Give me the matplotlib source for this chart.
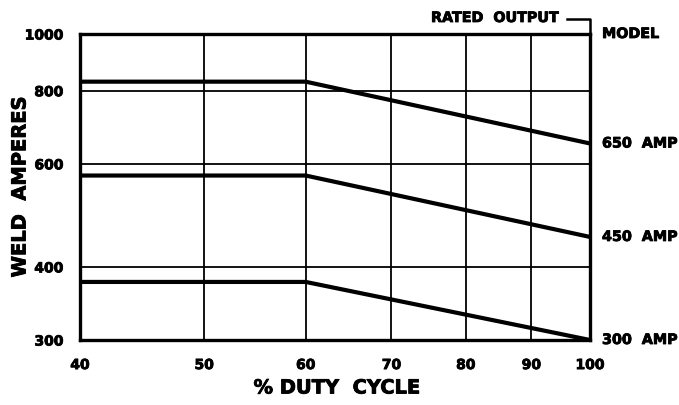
import matplotlib
matplotlib.use("Agg")
import matplotlib.pyplot as plt
import matplotlib.patheffects as pe
from matplotlib.ticker import FixedLocator, FixedFormatter, NullLocator
from matplotlib.lines import Line2D

# Duty-cycle curves for three welder models (log-log scales)
duty_cycle = [40, 60, 100]
amps_650 = [829, 829, 650]
amps_450 = [573, 573, 450]
amps_300 = [377, 377, 300]
rated_outputs = [650, 450, 300]
model_labels = ["650  AMP", "450  AMP", "300  AMP"]

x_ticks = [40, 50, 60, 70, 80, 90, 100]
y_ticks = [300, 400, 600, 800, 1000]

plt.rcParams["font.family"] = ["DejaVu Sans"]
plt.rcParams["font.weight"] = "bold"

# slightly heavier lettering
heavy = [pe.withStroke(linewidth=0.6, foreground="black")]

fig = plt.figure(figsize=(6.79, 4.05), dpi=100)
ax = fig.add_axes([80 / 679, 1 - 340 / 405, 510 / 679, 306 / 405])

ax.set_xscale("log")
ax.set_yscale("log")
ax.set_xlim(40, 100)
ax.set_ylim(300, 1000)

ax.xaxis.set_major_locator(FixedLocator(x_ticks))
ax.xaxis.set_major_formatter(FixedFormatter([str(v) for v in x_ticks]))
ax.xaxis.set_minor_locator(NullLocator())
ax.yaxis.set_major_locator(FixedLocator(y_ticks))
ax.yaxis.set_major_formatter(FixedFormatter([str(v) for v in y_ticks]))
ax.yaxis.set_minor_locator(NullLocator())

ax.tick_params(axis="both", length=0, labelsize=10, pad=12)
ax.tick_params(axis="x", pad=13)
for lbl in ax.get_xticklabels() + ax.get_yticklabels():
    lbl.set_fontweight("bold")
    lbl.set_path_effects(heavy)

ax.grid(True, color="black", linewidth=1.3)
ax.set_axisbelow(True)
for side in ax.spines.values():
    side.set_linewidth(2.4)
    side.set_zorder(5)

for series in (amps_650, amps_450, amps_300):
    ax.plot(duty_cycle, series, color="black", linewidth=3.0,
            solid_capstyle="butt", clip_on=False, zorder=4)

# Model labels on the right side, at each rated output
ax.annotate("MODEL", xy=(100, 1000), xytext=(12, 0), textcoords="offset pixels",
            ha="left", va="center", fontsize=10.3, fontweight="bold",
            path_effects=heavy)
for val, txt in zip(rated_outputs, model_labels):
    ax.annotate(txt, xy=(100, val), xytext=(12, 0), textcoords="offset pixels",
                ha="left", va="center", fontsize=10.3, fontweight="bold",
                path_effects=heavy)

fig.text(558 / 679, 1 - 18 / 405, "RATED  OUTPUT", ha="right", va="center",
         fontsize=10.3, fontweight="bold", path_effects=heavy)
fig.add_artist(Line2D([567 / 679, 590 / 679, 590 / 679],
                      [1 - 19 / 405, 1 - 19 / 405, 1 - 34 / 405],
                      transform=fig.transFigure, color="black", linewidth=1.8))

fig.text(20 / 679, 1 - 187 / 405, "WELD  AMPERES", rotation=90,
         ha="center", va="center", fontsize=14, fontweight="bold",
         path_effects=heavy)
fig.text(337 / 679, 1 - 388 / 405, "% DUTY  CYCLE", ha="center", va="center",
         fontsize=14, fontweight="bold", path_effects=heavy)

fig.savefig("out.png", dpi=100)
